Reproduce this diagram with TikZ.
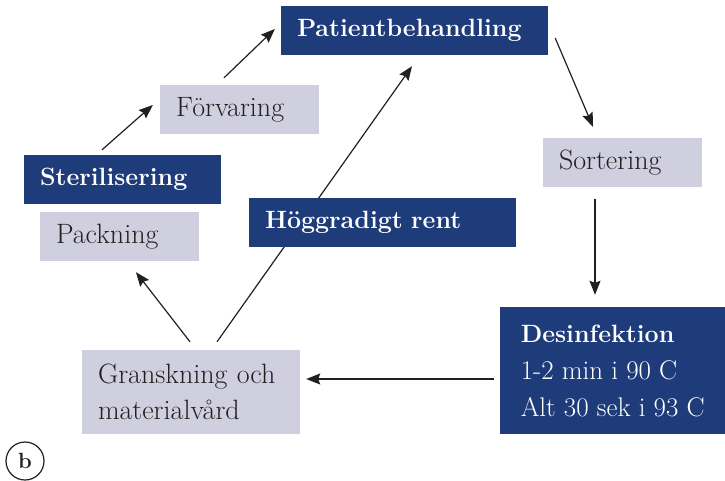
\documentclass[tikz,border=0pt]{standalone}
\usepackage{tikz}
\usetikzlibrary{arrows.meta,positioning}

\definecolor{hbblue}{HTML}{1E3B7A}
\definecolor{hblight}{HTML}{D0CFDF}
\definecolor{hbink}{HTML}{231F20}

\tikzset{
    darkbox/.style  = {fill=hbblue, text=white, font=\fontsize{25}{37}\selectfont\bfseries,
                       inner xsep=16pt, inner ysep=0pt, align=left},
    lightbox/.style = {fill=hblight, text=hbink, font=\fontsize{28}{36}\selectfont,
                       inner xsep=16pt, inner ysep=0pt, align=left},
    flow/.style     = {draw=hbink, line width=1.2pt, -{Stealth[length=14pt,width=11pt,inset=2pt]}}
}

\begin{document}
\begin{tikzpicture}[x=1pt, y=-1pt]
        \useasboundingbox (0,0) rectangle (725,480);

        % boxes
        \node [darkbox, text width=235pt, minimum height=49pt] (patient) at (414.5,30.5) {Patientbehandling};
        \node [lightbox, text width=127pt, minimum height=49pt] (forvaring) at (239.5,109.5) {Förvaring};
        \node [darkbox, text width=165pt, minimum height=49pt] (steril) at (122.5,179.5) {Sterilisering};
        \node [lightbox, text width=127pt, minimum height=49pt] (packning) at (119.5,236.5) {Packning};
        \node [lightbox, text width=127pt, minimum height=49pt] (sortering) at (622.5,162.5) {Sortering};
        \node [lightbox, text width=186pt, minimum height=84pt] (gransk) at (191,392) {Granskning och\\materialvård};
        \node [darkbox, anchor=west, inner xsep=20.5pt, minimum width=225pt, minimum height=127pt,
               font=\fontsize{27}{37}\selectfont] (desinf) at (500,370.5)
            {{\fontsize{25}{37}\selectfont\bfseries Desinfektion}\\1-2 min i 90 C\\Alt 30 sek i 93 C};

        % arrows
        \draw[flow] ([xshift=-20.5pt,yshift=5pt]steril.north) -- ([xshift=-7pt,yshift=4.5pt]forvaring.west);
        \draw[flow] ([xshift=-15.5pt,yshift=7pt]forvaring.north) -- ([xshift=-6pt,yshift=1.5pt]patient.west);
        \draw[flow] ([xshift=7pt,yshift=-7.5pt]patient.east) -- ([xshift=-29.5pt,yshift=11pt]sortering.north);
        \draw[flow] ([xshift=-27.5pt,yshift=-12pt]sortering.south) -- ([xshift=95pt,yshift=12pt]desinf.north west);
        \draw[flow] ([xshift=-6pt,yshift=-8.5pt]desinf.west) -- ([xshift=6pt,yshift=13pt]gransk.east);
        \draw[flow] ([xshift=-1pt,yshift=8pt]gransk.north) -- ([xshift=16.5pt,yshift=-11pt]packning.south);
        \draw[flow] ([xshift=26pt,yshift=8pt]gransk.north) -- ([xshift=-2.5pt,yshift=-11pt]patient.south);

        % drawn over the long arrow
        \node [darkbox, text width=235pt, minimum height=49pt] (hoggrad) at (382.5,222.5) {Höggradigt rent};

        \node [draw=hbink, line width=1.2pt, circle, minimum size=38pt, inner sep=0pt,
               font=\fontsize{22}{26}\selectfont\bfseries, text=hbink] (label) at (25,461) {b};
\end{tikzpicture}
\end{document}
